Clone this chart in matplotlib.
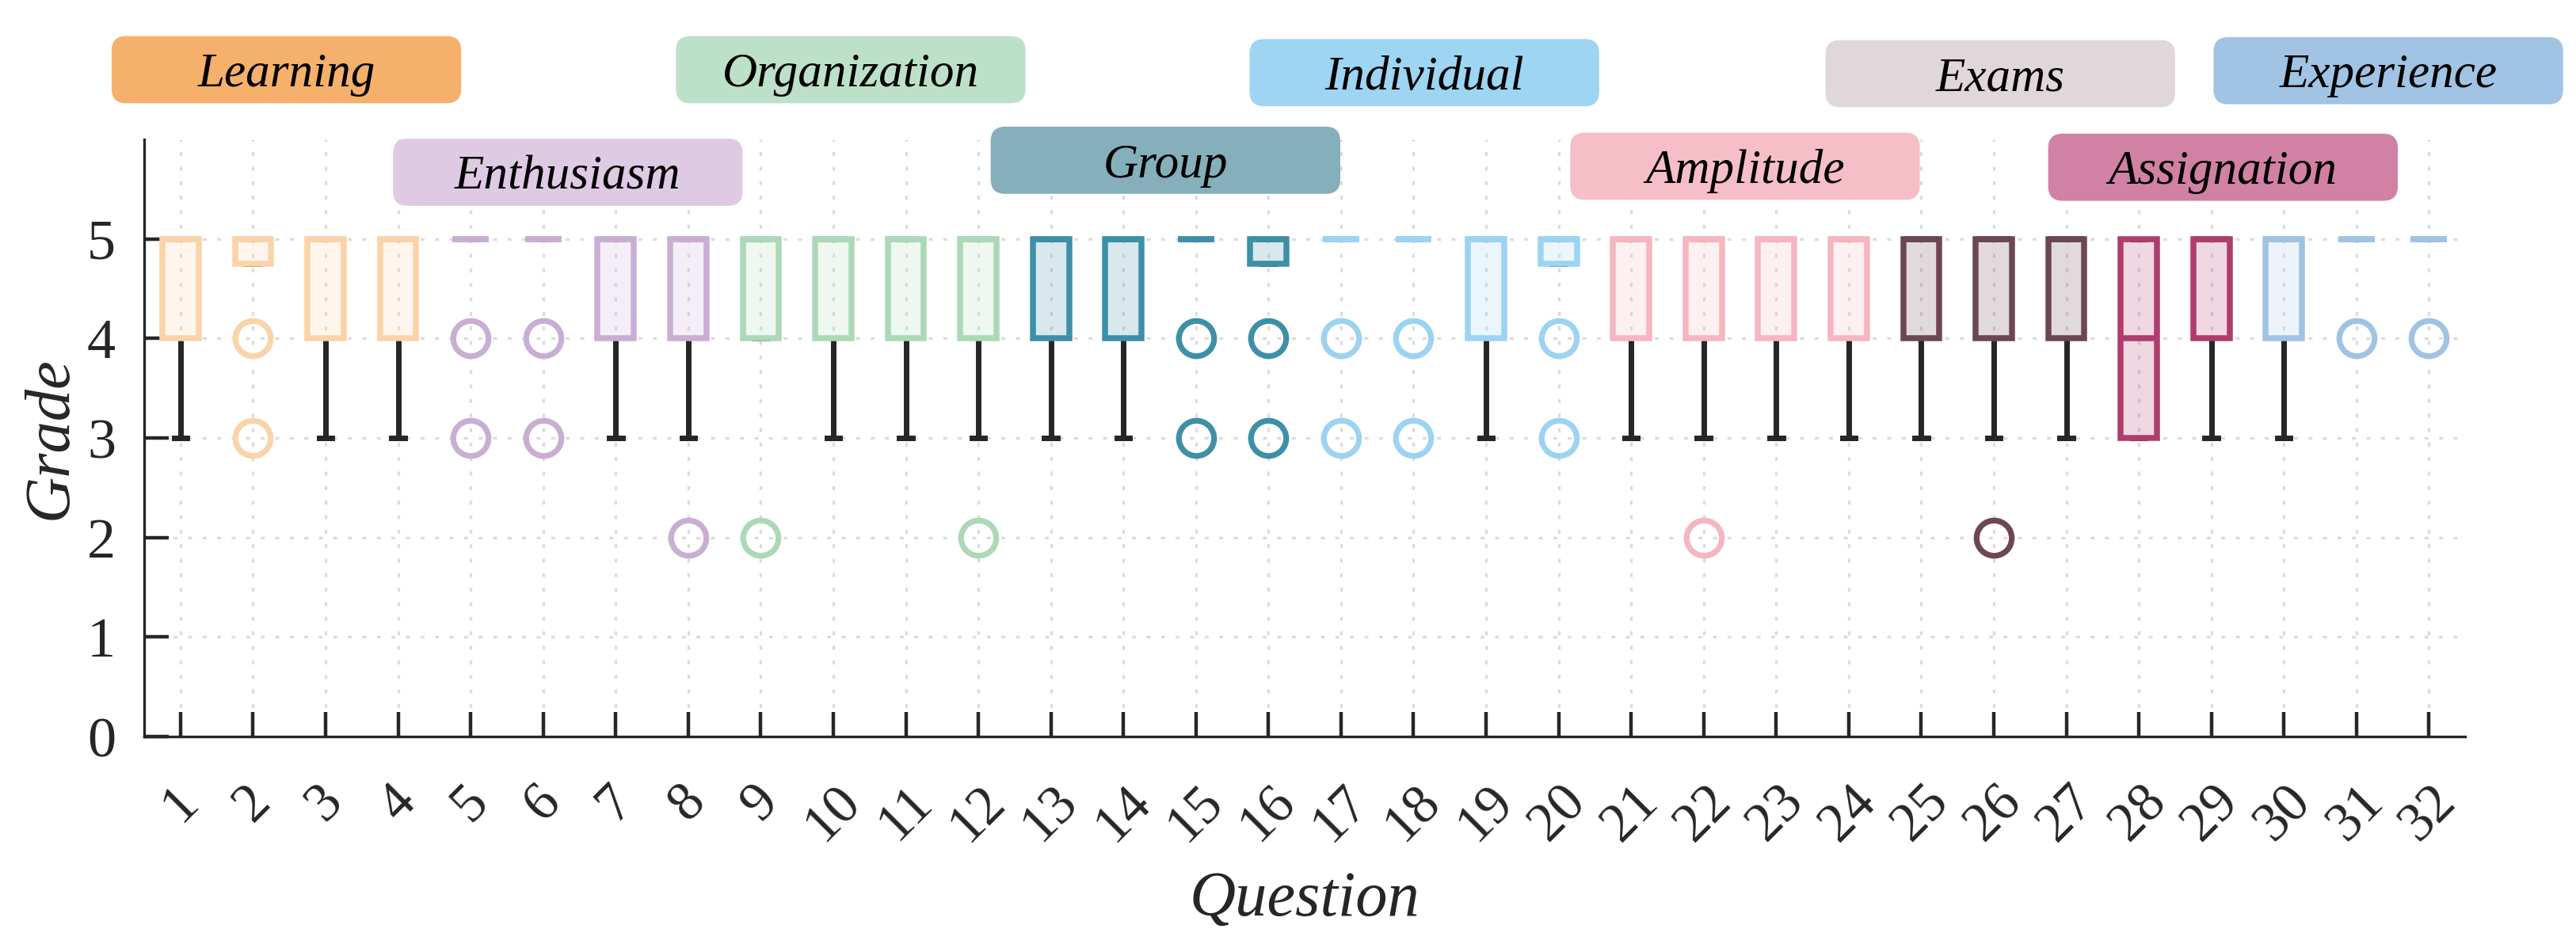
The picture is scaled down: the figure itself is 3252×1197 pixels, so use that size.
import numpy as np
import matplotlib
matplotlib.use('Agg')
import matplotlib.pyplot as plt
from matplotlib.patches import FancyBboxPatch

plt.rcParams['font.family'] = ['Liberation Serif', 'DejaVu Serif']

# ---- data ----
questions = list(range(1, 33))
groups = ['Learning', 'Enthusiasm', 'Organization', 'Group', 'Individual',
          'Amplitude', 'Exams', 'Assignation', 'Experience']
group_idx = [0]*4 + [1]*4 + [2]*4 + [3]*4 + [4]*4 + [5]*4 + [6]*3 + [7]*2 + [8]*3

q1 = [4, 4.75, 4, 4, 5, 5, 4, 4, 4, 4, 4, 4, 4, 4, 5, 4.75,
      5, 5, 4, 4.75, 4, 4, 4, 4, 4, 4, 4, 3, 4, 4, 5, 5]
med = [5]*27 + [4] + [5]*4
q3 = [5]*32
whis_lo = [3, 4.75, 3, 3, 5, 5, 3, 3, 4, 3, 3, 3, 3, 3, 5, 4.75,
           5, 5, 3, 4.75, 3, 3, 3, 3, 3, 3, 3, 3, 3, 3, 5, 5]
whis_hi = [5]*32
fliers = [[], [4, 3], [], [], [4, 3], [4, 3], [], [2], [2], [], [], [2], [], [], [4, 3], [4, 3],
          [4, 3], [4, 3], [], [4, 3], [], [2], [], [], [], [2], [], [], [], [], [4], [4]]

# ---- styles ----
edge_colors = ['#FAD3A8', '#C9AED4', '#ACD8B7', '#3E8FA8', '#9CD3F2',
               '#F5B6BF', '#6C4657', '#AF3C6E', '#A0C3E3']
label_colors = ['#F5B06B', '#DFCAE3', '#BDE1C8', '#85AFBB', '#9DD5F2',
                '#F6BFC7', '#E0D7DA', '#D181A3', '#A1C4E4']
# label box centres (data coords)
label_x = [2.46, 6.34, 10.24, 14.58, 18.15, 22.57, 26.09, 29.16, 31.44]
label_y = [6.70, 5.67, 6.70, 5.79, 6.67, 5.73, 6.66, 5.72, 6.69]
DARK = '#262626'

fig = plt.figure(figsize=(16.26, 5.985), dpi=200)
ax = fig.add_axes([0.056, 0.223, 0.901, 0.630])

stats = []
for i in range(len(questions)):
    stats.append(dict(q1=q1[i], med=med[i], q3=q3[i], whislo=whis_lo[i],
                      whishi=whis_hi[i], fliers=fliers[i]))

bp = ax.bxp(stats, positions=questions, widths=0.5, capwidths=0.18,
            patch_artist=True, showfliers=True,
            boxprops=dict(linewidth=2.7, zorder=3),
            medianprops=dict(linewidth=2.7, zorder=4),
            whiskerprops=dict(color=DARK, linewidth=2.5, zorder=2),
            capprops=dict(color=DARK, linewidth=2.5, zorder=2),
            flierprops=dict(marker='o', markersize=16, markeredgewidth=2.6,
                            markerfacecolor='none', zorder=4))

for i in range(len(questions)):
    c = edge_colors[group_idx[i]]
    box = bp['boxes'][i]
    box.set_edgecolor(c)
    box.set_facecolor(matplotlib.colors.to_rgba(c, 0.2))
    bp['medians'][i].set_color(c)
    bp['fliers'][i].set_markeredgecolor(c)

ax.set_xlim(0.5, 32.5)
ax.set_ylim(0, 6)
ax.set_yticks(range(0, 6))
ax.set_xticks(questions)
ax.set_xticklabels([str(q) for q in questions], rotation=45)

ax.grid(True, color='#dcdcdc', linestyle=(0, (1.5, 4)), linewidth=1.2)
ax.set_axisbelow(True)

for s in ['top', 'right']:
    ax.spines[s].set_visible(False)
for s in ['left', 'bottom']:
    ax.spines[s].set_color(DARK)
    ax.spines[s].set_linewidth(1.2)

ax.tick_params(axis='both', direction='in', length=11, width=1.6, color=DARK,
               labelcolor=DARK)
ax.tick_params(axis='x', labelsize=25, pad=18)
ax.tick_params(axis='y', labelsize=26, pad=13)

ax.set_xlabel('Question', fontsize=29, style='italic', color=DARK)
ax.set_ylabel('Grade', fontsize=29, style='italic', color=DARK)
ax.xaxis.set_label_coords(0.5, -0.225)
ax.yaxis.set_label_coords(-0.028, 0.5)

# group label boxes above the plot
bw, bh = 4.82, 0.675
for name, x, y, fc in zip(groups, label_x, label_y, label_colors):
    patch = FancyBboxPatch((x - bw/2, y - bh/2), bw, bh,
                           boxstyle='round,pad=0,rounding_size=0.2',
                           mutation_aspect=0.7266, facecolor=fc, edgecolor='none',
                           clip_on=False, zorder=5)
    ax.add_patch(patch)
    ax.text(x, y, name, ha='center', va='center_baseline', fontsize=22,
            style='italic', color='black', zorder=6, clip_on=False)

fig.savefig('out.png', dpi=200)
